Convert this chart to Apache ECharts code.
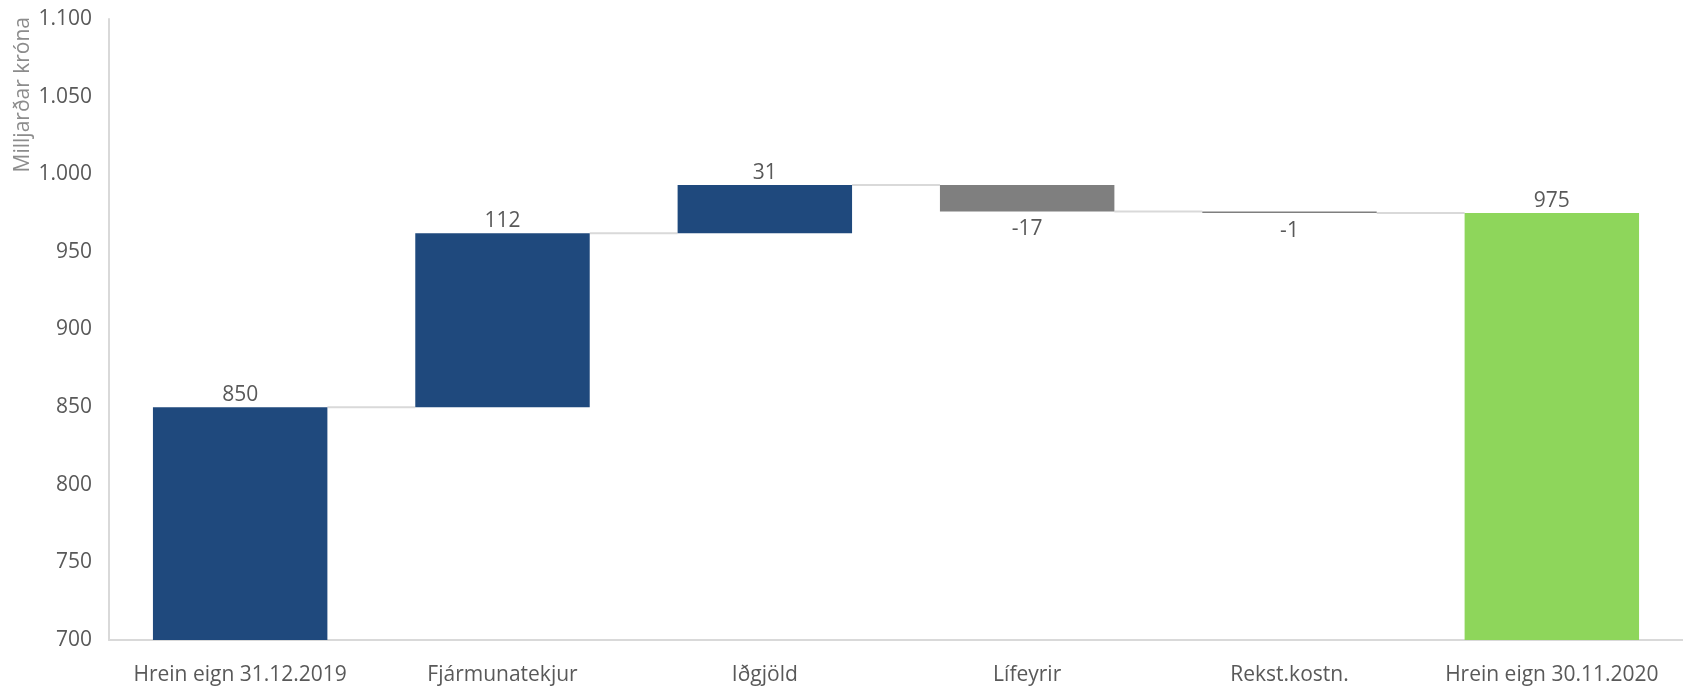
<!DOCTYPE html>
<html>
<head>
<meta charset="utf-8">
<script src="https://cdn.jsdelivr.net/npm/echarts@6/dist/echarts.min.js"></script>
<style>
  html, body { margin: 0; padding: 0; background: #fff; }
  #chart { width: 1683px; height: 686px; }
</style>
</head>
<body>
<div id="chart"></div>
<script>
// gögn
var categories = ['Hrein eign 31.12.2019', 'Fjármunatekjur', 'Iðgjöld', 'Lífeyrir', 'Rekst.kostn.', 'Hrein eign 30.11.2020'];
var startValue = 850;
var changes = [112, 31, -17, -1];
var endValue = 975;
var yTicks = [700, 750, 800, 850, 900, 950, 1000, 1050, 1100];

var BLUE = '#1F497D', GREY = '#7F7F7F', GREEN = '#8ED65B';
var FONT = 'Open Sans';

// byggja fossinn: [index, low, high, label, color, labelUp]
var bars = [[0, yTicks[0], startValue, startValue, BLUE, 1]];
var level = startValue;
changes.forEach(function (d, i) {
  var next = level + d;
  bars.push([i + 1, Math.min(level, next), Math.max(level, next), d, d >= 0 ? BLUE : GREY, d >= 0 ? 1 : 0]);
  level = next;
});
bars.push([categories.length - 1, yTicks[0], endValue, endValue, GREEN, 1]);

// tengilínur frá hægri brún súlu að vinstri brún næstu
var connectors = [];
var lv = startValue;
connectors.push([0, lv]);
changes.forEach(function (d, i) { lv += d; connectors.push([i + 1, lv]); });

function fmt(v) {
  return String(v).replace(/\B(?=(\d{3})+(?!\d))/g, '.');
}

var chart = echarts.init(document.getElementById('chart'));
var barRatio = 0.665;

chart.setOption({
  animation: false,
  grid: { left: 109, right: -2, top: 19, bottom: 44 },
  graphic: [{
    type: 'text',
    x: 23, y: 17,
    rotation: Math.PI / 2,
    style: {
      text: 'Milljarðar króna',
      fill: '#8C8C8C',
      font: '21px "' + FONT + '"',
      textAlign: 'right',
      textVerticalAlign: 'middle'
    }
  }],
  xAxis: {
    type: 'category',
    data: categories,
    axisLine: { lineStyle: { color: '#D9D9D9', width: 2 } },
    axisTick: { show: false },
    axisLabel: { interval: 0, color: '#595959', fontSize: 21, fontFamily: FONT, margin: 25 }
  },
  yAxis: {
    type: 'value',
    min: 700, max: 1100, interval: 50,
    axisLine: { show: true, lineStyle: { color: '#D9D9D9', width: 2 } },
    axisTick: { show: false },
    splitLine: { show: false },
    axisLabel: { color: '#595959', fontSize: 21, fontFamily: FONT, margin: 17, formatter: fmt }
  },
  series: [
    {
      type: 'custom',
      z: 1,
      data: connectors,
      renderItem: function (params, api) {
        var i = api.value(0);
        var v = api.value(1);
        var w = api.size([1, 0])[0] * barRatio;
        var p0 = api.coord([i, v]);
        var p1 = api.coord([i + 1, v]);
        return {
          type: 'line',
          shape: { x1: p0[0] + w / 2, y1: p0[1], x2: p1[0] - w / 2, y2: p1[1] },
          style: { stroke: '#D9D9D9', lineWidth: 2 }
        };
      }
    },
    {
      type: 'custom',
      z: 2,
      data: bars,
      encode: { x: 0, y: [1, 2] },
      renderItem: function (params, api) {
        var item = bars[params.dataIndex];
        var i = item[0];
        var lo = api.coord([i, item[1]]);
        var hi = api.coord([i, item[2]]);
        var w = api.size([1, 0])[0] * barRatio;
        var h = Math.max(lo[1] - hi[1], 1.5);
        var labelY = item[5] ? hi[1] - 2 : lo[1] + 7;
        return {
          type: 'group',
          children: [
            {
              type: 'rect',
              shape: { x: lo[0] - w / 2, y: hi[1], width: w, height: h },
              style: { fill: item[4] }
            },
            {
              type: 'text',
              x: lo[0], y: labelY,
              style: {
                text: fmt(item[3]),
                fill: '#595959',
                font: '21px "' + FONT + '"',
                textAlign: 'center',
                textVerticalAlign: item[5] ? 'bottom' : 'top'
              }
            }
          ]
        };
      }
    }
  ]
});
</script>
</body>
</html>
